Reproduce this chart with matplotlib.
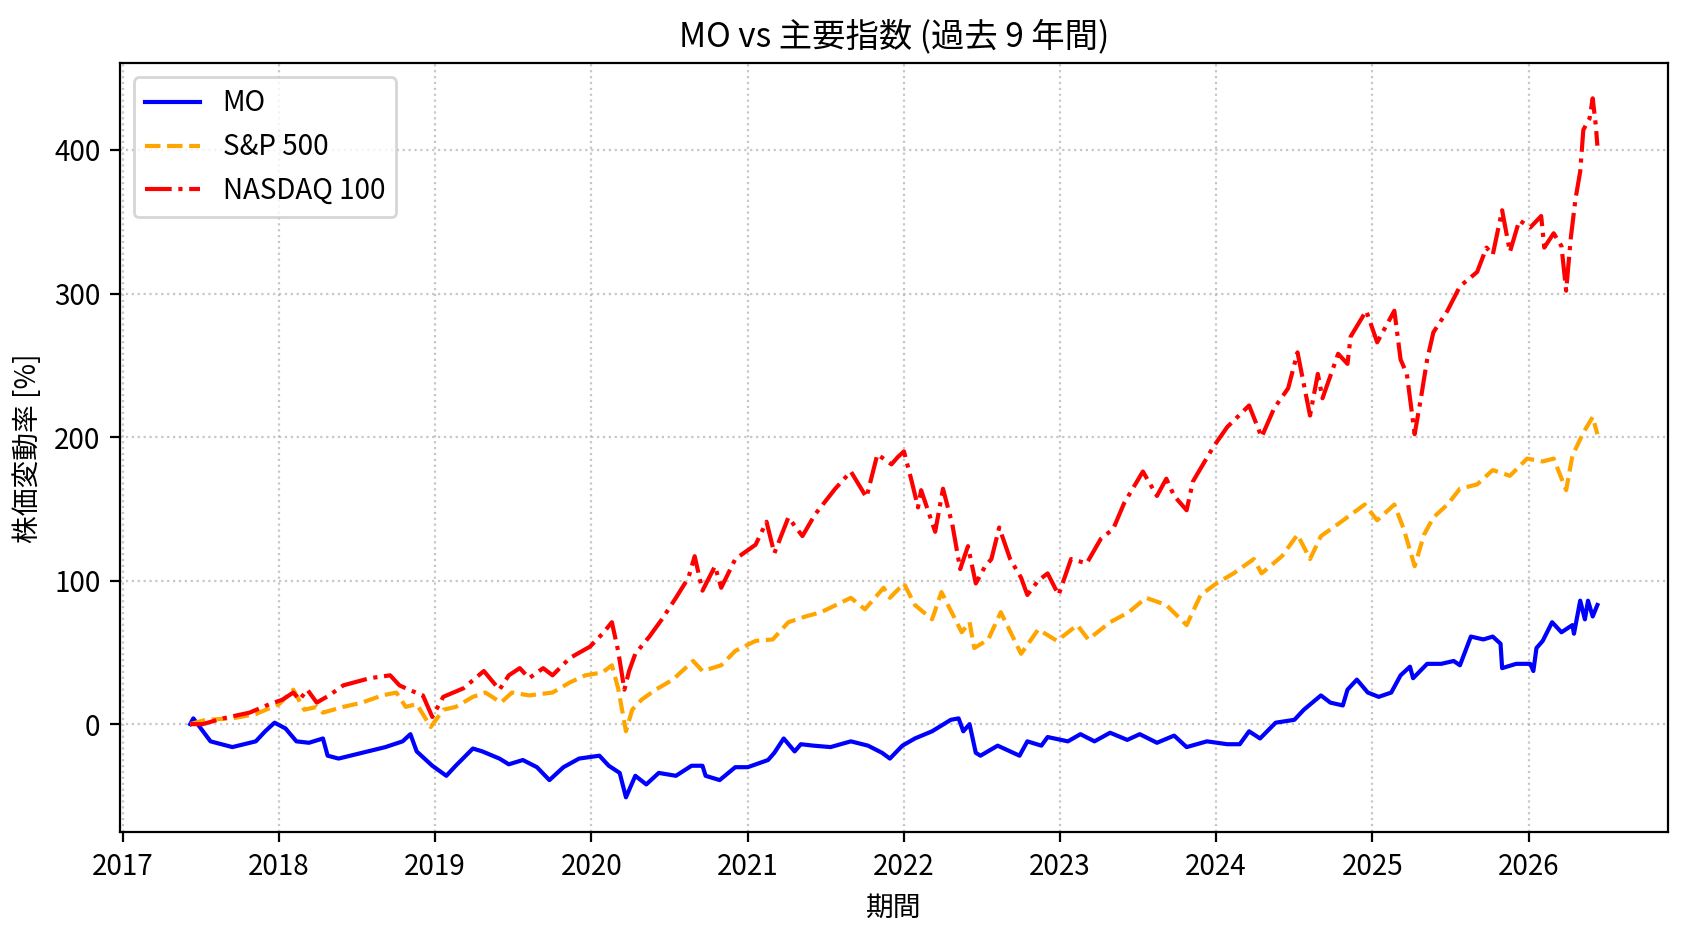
"""
Plot MO against the major indices (S&P 500, NASDAQ 100), percent change over 9 years
"""

import numpy as np
import pandas as pd
import matplotlib
matplotlib.use('Agg')
import matplotlib.pyplot as plt

plt.rcParams['font.family'] = ['Noto Sans CJK JP', 'DejaVu Sans']

# values (decimal year, percent change)
mo_years = [2017.43, 2017.45, 2017.56, 2017.70, 2017.85, 2017.91, 2017.97, 2018.04, 2018.11, 2018.19,
            2018.28, 2018.31, 2018.38, 2018.53, 2018.68, 2018.79, 2018.84, 2018.88, 2018.98, 2019.07,
            2019.13, 2019.24, 2019.30, 2019.41, 2019.47, 2019.56, 2019.65, 2019.73, 2019.82, 2019.92,
            2020.05, 2020.11, 2020.18, 2020.22, 2020.28, 2020.35, 2020.43, 2020.54, 2020.64, 2020.71,
            2020.73, 2020.82, 2020.92, 2021.00, 2021.13, 2021.17, 2021.23, 2021.30, 2021.34, 2021.42,
            2021.53, 2021.66, 2021.77, 2021.86, 2021.91, 2021.99, 2022.07, 2022.18, 2022.30, 2022.35,
            2022.38, 2022.42, 2022.46, 2022.49, 2022.60, 2022.74, 2022.79, 2022.88, 2022.92, 2023.05,
            2023.13, 2023.22, 2023.32, 2023.43, 2023.51, 2023.62, 2023.73, 2023.81, 2023.94, 2024.07,
            2024.15, 2024.21, 2024.28, 2024.38, 2024.50, 2024.56, 2024.67, 2024.73, 2024.81, 2024.84,
            2024.90, 2024.97, 2025.04, 2025.12, 2025.18, 2025.24, 2025.26, 2025.35, 2025.44, 2025.52,
            2025.56, 2025.63, 2025.71, 2025.77, 2025.82, 2025.83, 2025.92, 2026.01, 2026.03, 2026.05,
            2026.09, 2026.15, 2026.21, 2026.28, 2026.29, 2026.33, 2026.36, 2026.38, 2026.41, 2026.44]
mo_values = [0, 4, -12, -16, -12, -5, 1, -3, -12, -13,
             -10, -22, -24, -20, -16, -12, -7, -19, -29, -36,
             -29, -17, -19, -24, -28, -25, -30, -39, -30, -24,
             -22, -29, -34, -51, -36, -42, -34, -36, -29, -29,
             -36, -39, -30, -30, -25, -20, -10, -19, -14, -15,
             -16, -12, -15, -20, -24, -15, -10, -5, 3, 4,
             -5, 0, -20, -22, -15, -22, -12, -15, -9, -12,
             -7, -12, -6, -11, -7, -13, -8, -16, -12, -14,
             -14, -5, -10, 1, 3, 10, 20, 15, 13, 24,
             31, 22, 19, 22, 34, 40, 32, 42, 42, 44,
             41, 61, 59, 61, 56, 39, 42, 42, 37, 53,
             58, 71, 64, 69, 63, 86, 73, 86, 75, 83]

sp_years = [2017.43, 2017.53, 2017.70, 2017.85, 2018.00, 2018.09, 2018.16, 2018.24, 2018.28, 2018.41,
            2018.53, 2018.66, 2018.75, 2018.81, 2018.88, 2018.97, 2019.05, 2019.13, 2019.24, 2019.32,
            2019.42, 2019.49, 2019.60, 2019.75, 2019.86, 2019.96, 2020.07, 2020.13, 2020.17, 2020.22,
            2020.26, 2020.32, 2020.41, 2020.52, 2020.65, 2020.71, 2020.83, 2020.92, 2021.05, 2021.16,
            2021.26, 2021.37, 2021.47, 2021.66, 2021.75, 2021.87, 2021.91, 2022.00, 2022.07, 2022.18,
            2022.24, 2022.37, 2022.42, 2022.45, 2022.54, 2022.62, 2022.75, 2022.86, 2022.98, 2023.11,
            2023.18, 2023.32, 2023.44, 2023.55, 2023.68, 2023.81, 2023.90, 2024.00, 2024.11, 2024.24,
            2024.29, 2024.42, 2024.52, 2024.60, 2024.67, 2024.80, 2024.95, 2025.03, 2025.14, 2025.20,
            2025.27, 2025.33, 2025.39, 2025.48, 2025.56, 2025.67, 2025.77, 2025.88, 2025.99, 2026.09,
            2026.16, 2026.24, 2026.28, 2026.35, 2026.41, 2026.44]
sp_values = [0, 3, 4, 7, 14, 24, 10, 12, 8, 12,
             15, 20, 22, 12, 14, -2, 10, 12, 19, 22,
             15, 22, 20, 22, 29, 34, 36, 41, 25, -5,
             10, 17, 24, 31, 44, 37, 41, 51, 58, 59,
             71, 75, 78, 88, 80, 95, 88, 98, 83, 73,
             92, 64, 71, 53, 59, 78, 49, 66, 58, 69,
             59, 71, 78, 88, 83, 69, 90, 98, 105, 115,
             105, 117, 132, 115, 131, 141, 153, 142, 153, 136,
             110, 132, 144, 153, 164, 167, 177, 173, 185, 183,
             185, 163, 187, 203, 214, 202]

nq_years = [2017.43, 2017.51, 2017.64, 2017.81, 2017.94, 2018.02, 2018.09, 2018.13, 2018.18, 2018.24,
            2018.32, 2018.41, 2018.58, 2018.71, 2018.77, 2018.83, 2018.92, 2018.98, 2019.05, 2019.18,
            2019.31, 2019.41, 2019.47, 2019.54, 2019.60, 2019.69, 2019.75, 2019.86, 2019.99, 2020.07,
            2020.13, 2020.17, 2020.21, 2020.24, 2020.28, 2020.37, 2020.45, 2020.54, 2020.62, 2020.66,
            2020.71, 2020.79, 2020.83, 2020.92, 2021.05, 2021.12, 2021.17, 2021.26, 2021.35, 2021.43,
            2021.56, 2021.66, 2021.76, 2021.83, 2021.92, 2021.96, 2022.00, 2022.05, 2022.09, 2022.11,
            2022.20, 2022.25, 2022.31, 2022.36, 2022.41, 2022.46, 2022.52, 2022.56, 2022.61, 2022.68,
            2022.75, 2022.79, 2022.86, 2022.92, 2022.99, 2023.07, 2023.17, 2023.26, 2023.34, 2023.41,
            2023.53, 2023.62, 2023.68, 2023.73, 2023.81, 2023.85, 2023.98, 2024.07, 2024.21, 2024.29,
            2024.37, 2024.46, 2024.52, 2024.60, 2024.65, 2024.68, 2024.78, 2024.84, 2024.86, 2024.96,
            2025.03, 2025.10, 2025.14, 2025.18, 2025.22, 2025.27, 2025.31, 2025.35, 2025.39, 2025.48,
            2025.56, 2025.67, 2025.73, 2025.77, 2025.83, 2025.88, 2025.94, 2026.01, 2026.08, 2026.10,
            2026.16, 2026.21, 2026.24, 2026.27, 2026.30, 2026.33, 2026.35, 2026.39, 2026.41, 2026.43,
            2026.44]
nq_values = [0, 0, 4, 8, 14, 17, 22, 17, 24, 15,
             20, 27, 32, 34, 27, 24, 20, 5, 19, 25,
             37, 24, 34, 39, 32, 39, 34, 46, 54, 63,
             71, 51, 24, 37, 49, 61, 73, 88, 102, 117,
             93, 110, 95, 115, 125, 141, 119, 144, 131, 146,
             164, 176, 158, 188, 181, 186, 190, 169, 151, 163,
             134, 164, 139, 108, 124, 98, 110, 115, 137, 115,
             102, 90, 100, 105, 90, 115, 112, 129, 136, 154,
             176, 159, 171, 159, 149, 169, 193, 207, 222, 200,
             220, 234, 259, 215, 244, 227, 258, 251, 270, 288,
             266, 280, 288, 254, 244, 202, 227, 254, 273, 288,
             305, 315, 332, 327, 358, 329, 351, 346, 354, 332,
             342, 333, 302, 339, 366, 385, 414, 422, 436, 417,
             403]


def to_dates(years):
    # decimal year -> timestamp
    years = np.asarray(years)
    return pd.to_datetime('2017-01-01') + pd.to_timedelta((years - 2017) * 365.25, unit='D')


def plot_comparison():
    fig, ax = plt.subplots(figsize=(8.44, 4.66), dpi=200)
    ax.plot(to_dates(mo_years), mo_values, color='blue', linestyle='-', linewidth=1.5, label='MO')
    ax.plot(to_dates(sp_years), sp_values, color='orange', linestyle='--', linewidth=1.5, label='S&P 500')
    ax.plot(to_dates(nq_years), nq_values, color='red', linestyle='-.', linewidth=1.5, label='NASDAQ 100')

    ax.set_title('MO vs 主要指数 (過去 9 年間)')
    ax.set_xlabel('期間')
    ax.set_ylabel('株価変動率 [%]')
    ax.grid(True, linestyle=':', alpha=0.7)
    ax.legend(loc='upper left')

    fig.subplots_adjust(left=0.071, right=0.988, top=0.932, bottom=0.107)
    plt.savefig('out.png', dpi=200)


if __name__ == '__main__':
    plot_comparison()
